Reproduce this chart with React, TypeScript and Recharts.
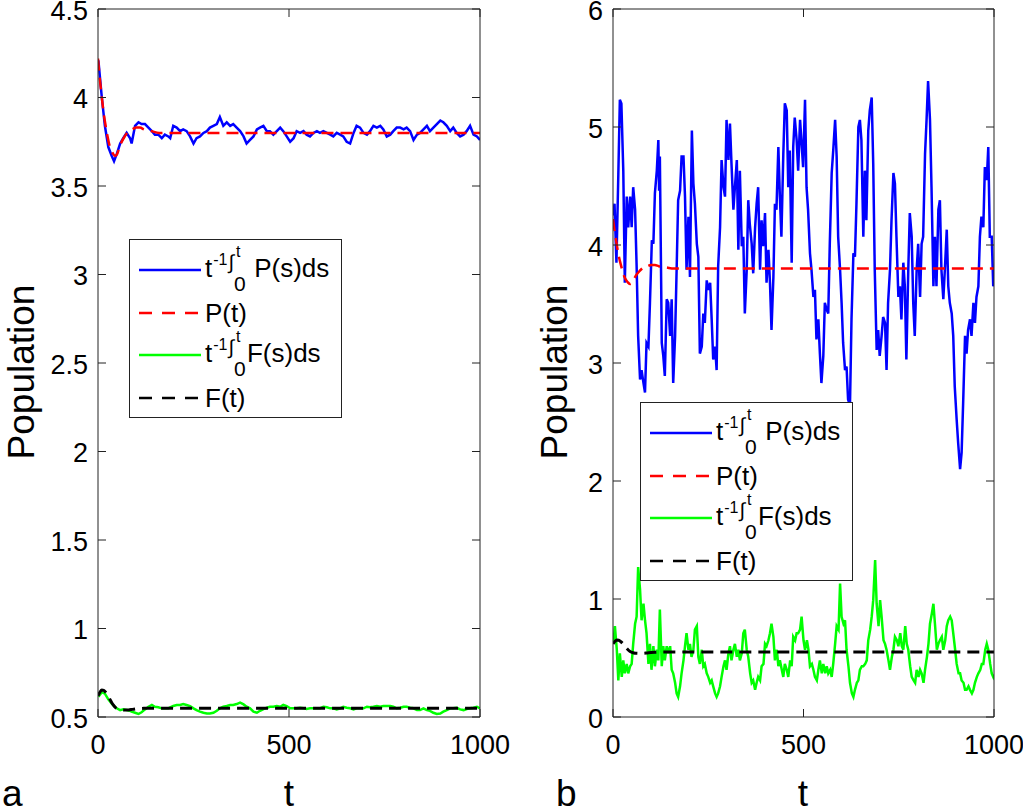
import { Legend, Line, LineChart, XAxis, YAxis } from "recharts";

const FONT = '"Liberation Sans", Arial, Helvetica, sans-serif';

// deterministic solutions P(t), F(t) (same in both panels)
const tDet = [0, 5, 10, 15, 20, 25, 30, 35, 40, 45, 50, 55, 60, 70, 80, 90, 100, 110, 120, 140, 160, 200, 300, 500, 1000];
const pDet = [4.22, 4.1, 4.0, 3.91, 3.84, 3.78, 3.73, 3.7, 3.68, 3.67, 3.68, 3.71, 3.74, 3.78, 3.81, 3.82, 3.83, 3.83, 3.82, 3.81, 3.8, 3.8, 3.8, 3.8, 3.8];
const fDet = [0.62, 0.64, 0.652, 0.65, 0.64, 0.625, 0.605, 0.585, 0.568, 0.555, 0.547, 0.542, 0.54, 0.539, 0.54, 0.543, 0.546, 0.548, 0.549, 0.55, 0.55, 0.55, 0.55, 0.55, 0.55];

// panel a: time averages
const tAvgA = [1, 10, 18, 27, 36, 42, 49, 58, 66, 75, 84, 88, 97, 106, 114, 123, 132, 141, 149, 158, 167, 175, 184, 189, 197, 206, 215, 223, 232, 241, 250, 258, 267, 276, 285, 293, 302, 311, 319, 328, 337, 346, 354, 363, 372, 381, 389, 398, 407, 416, 424, 433, 442, 450, 459, 468, 477, 485, 494, 503, 512, 520, 529, 538, 546, 555, 564, 573, 581, 590, 599, 608, 616, 625, 634, 642, 651, 660, 669, 677, 686, 695, 704, 712, 721, 730, 739, 747, 756, 765, 773, 782, 791, 800, 808, 817, 826, 835, 843, 852, 861, 869, 878, 887, 896, 904, 913, 922, 930, 939, 948, 957, 965, 974, 983, 992, 1000];
const avgPA = [4.21, 4.0, 3.84, 3.72, 3.67, 3.64, 3.68, 3.74, 3.77, 3.8, 3.77, 3.74, 3.84, 3.86, 3.85, 3.85, 3.83, 3.81, 3.79, 3.79, 3.77, 3.79, 3.78, 3.77, 3.84, 3.83, 3.81, 3.82, 3.81, 3.78, 3.74, 3.77, 3.78, 3.8, 3.81, 3.83, 3.84, 3.85, 3.89, 3.84, 3.86, 3.84, 3.85, 3.83, 3.81, 3.78, 3.74, 3.76, 3.78, 3.82, 3.83, 3.84, 3.81, 3.81, 3.79, 3.81, 3.83, 3.81, 3.78, 3.75, 3.77, 3.81, 3.8, 3.81, 3.79, 3.78, 3.8, 3.81, 3.8, 3.81, 3.8, 3.79, 3.78, 3.8, 3.79, 3.78, 3.75, 3.74, 3.8, 3.84, 3.83, 3.8, 3.79, 3.81, 3.84, 3.83, 3.84, 3.82, 3.78, 3.79, 3.81, 3.83, 3.83, 3.82, 3.83, 3.81, 3.76, 3.79, 3.8, 3.82, 3.84, 3.81, 3.83, 3.85, 3.87, 3.86, 3.84, 3.81, 3.83, 3.8, 3.78, 3.79, 3.81, 3.84, 3.79, 3.78, 3.76];
const avgFA = [0.615, 0.64, 0.632, 0.6, 0.575, 0.562, 0.549, 0.539, 0.543, 0.539, 0.535, 0.53, 0.524, 0.517, 0.527, 0.543, 0.558, 0.568, 0.558, 0.555, 0.549, 0.549, 0.549, 0.555, 0.562, 0.568, 0.568, 0.573, 0.568, 0.562, 0.549, 0.539, 0.53, 0.524, 0.52, 0.52, 0.524, 0.535, 0.549, 0.558, 0.562, 0.568, 0.568, 0.573, 0.581, 0.571, 0.558, 0.549, 0.53, 0.524, 0.535, 0.545, 0.552, 0.558, 0.558, 0.562, 0.558, 0.568, 0.562, 0.549, 0.549, 0.549, 0.552, 0.549, 0.545, 0.549, 0.549, 0.549, 0.549, 0.558, 0.555, 0.549, 0.549, 0.543, 0.549, 0.558, 0.552, 0.549, 0.543, 0.549, 0.549, 0.549, 0.558, 0.555, 0.558, 0.562, 0.558, 0.562, 0.562, 0.562, 0.558, 0.549, 0.552, 0.558, 0.558, 0.552, 0.549, 0.539, 0.539, 0.549, 0.539, 0.535, 0.524, 0.517, 0.52, 0.53, 0.539, 0.549, 0.549, 0.552, 0.543, 0.539, 0.545, 0.549, 0.552, 0.558, 0.549];

// panel b: time averages
const tAvgPB = [0, 4, 9, 14, 18, 22, 27, 31, 36, 40, 45, 49, 53, 58, 62, 66, 71, 75, 80, 84, 88, 93, 97, 102, 106, 110, 115, 119, 121, 123, 128, 132, 136, 141, 145, 150, 154, 158, 163, 167, 171, 176, 180, 185, 189, 193, 198, 202, 207, 211, 215, 220, 224, 228, 233, 237, 241, 246, 250, 255, 259, 263, 268, 272, 276, 281, 285, 290, 294, 298, 303, 307, 311, 316, 320, 325, 329, 333, 338, 342, 346, 351, 355, 359, 364, 368, 373, 377, 381, 386, 390, 394, 399, 403, 408, 412, 416, 421, 425, 429, 434, 438, 442, 447, 451, 456, 460, 464, 469, 473, 477, 482, 486, 491, 495, 499, 504, 508, 512, 517, 521, 526, 530, 534, 539, 543, 547, 552, 556, 561, 565, 569, 574, 578, 583, 587, 591, 596, 600, 604, 609, 613, 617, 622, 626, 631, 635, 639, 644, 648, 652, 657, 661, 665, 670, 674, 679, 683, 687, 692, 696, 700, 705, 709, 714, 718, 722, 727, 731, 736, 740, 744, 749, 753, 757, 762, 766, 770, 775, 779, 784, 788, 792, 797, 801, 806, 810, 814, 819, 823, 827, 832, 836, 841, 845, 849, 854, 858, 862, 867, 871, 876, 880, 884, 889, 893, 897, 902, 906, 911, 915, 919, 924, 928, 932, 937, 941, 946, 950, 954, 959, 963, 967, 972, 976, 981, 985, 989, 994, 998, 1000];
const avgPB = [4.25, 4.35, 3.85, 4.6, 5.23, 5.2, 4.63, 3.68, 4.41, 4.15, 4.41, 4.15, 4.49, 4.3, 3.82, 3.23, 2.86, 2.94, 2.83, 2.75, 3.17, 3.14, 3.51, 4.04, 4.01, 4.44, 4.63, 4.89, 4.46, 4.75, 3.17, 3.06, 2.89, 3.54, 3.51, 3.23, 3.54, 2.83, 3.23, 3.79, 4.38, 4.46, 4.75, 4.75, 4.41, 3.79, 4.24, 3.73, 4.97, 4.52, 4.35, 4.01, 3.9, 3.08, 3.14, 3.42, 3.34, 3.7, 3.62, 3.68, 3.37, 3.03, 3.14, 2.94, 3.82, 4.15, 4.72, 4.49, 4.41, 5.06, 4.72, 5.03, 4.69, 4.3, 4.49, 4.72, 3.96, 4.63, 3.99, 4.07, 3.42, 3.79, 4.38, 4.18, 4.01, 3.76, 4.15, 4.35, 4.49, 3.79, 4.21, 3.99, 4.27, 3.68, 3.96, 3.68, 3.28, 3.73, 4.35, 4.3, 4.83, 4.41, 4.07, 4.77, 5.2, 5.14, 4.49, 4.8, 3.85, 4.83, 5.08, 4.89, 4.63, 5.06, 4.86, 4.66, 5.23, 4.49, 4.3, 3.93, 3.79, 3.56, 3.62, 3.2, 3.37, 3.08, 2.83, 3.06, 3.51, 3.45, 3.42, 4.01, 4.61, 4.8, 5.06, 4.75, 4.07, 3.79, 3.51, 3.17, 2.94, 2.97, 2.69, 2.64, 3.37, 3.93, 3.9, 4.35, 5.0, 5.06, 4.89, 4.07, 4.63, 4.21, 4.97, 5.14, 5.25, 4.69, 3.79, 3.11, 3.28, 3.06, 3.23, 3.39, 3.34, 2.94, 3.51, 3.79, 4.21, 4.61, 4.52, 4.07, 3.56, 3.65, 3.37, 3.85, 3.65, 3.03, 3.79, 4.27, 4.07, 3.51, 3.23, 3.79, 4.01, 3.56, 4.01, 4.07, 4.77, 5.06, 5.39, 5.06, 4.49, 3.65, 4.07, 3.65, 4.3, 4.38, 3.79, 3.54, 3.79, 4.13, 3.65, 3.51, 3.42, 3.23, 2.8, 2.52, 2.32, 2.1, 2.24, 2.66, 3.23, 3.08, 3.28, 3.37, 3.23, 3.51, 3.34, 3.56, 3.65, 4.07, 4.24, 4.15, 4.66, 4.55, 4.83, 4.07, 4.07, 3.65, 3.7];

const tAvgFB = [1, 5, 10, 14, 18, 23, 27, 31, 36, 40, 45, 49, 53, 58, 62, 66, 71, 75, 80, 84, 88, 93, 97, 101, 106, 110, 115, 119, 123, 128, 132, 136, 141, 145, 150, 154, 158, 163, 167, 171, 176, 180, 185, 189, 193, 198, 202, 206, 211, 215, 220, 224, 228, 233, 237, 241, 246, 250, 255, 259, 263, 268, 272, 276, 281, 285, 290, 294, 298, 303, 307, 311, 316, 320, 325, 329, 333, 338, 342, 346, 351, 355, 360, 364, 368, 373, 377, 381, 386, 390, 395, 399, 403, 408, 412, 416, 421, 425, 430, 434, 438, 443, 447, 451, 456, 460, 465, 469, 473, 478, 482, 486, 491, 495, 500, 504, 509, 513, 517, 522, 526, 530, 535, 539, 543, 548, 552, 557, 561, 565, 570, 574, 578, 583, 587, 592, 596, 600, 605, 609, 613, 618, 622, 627, 631, 635, 640, 644, 648, 653, 657, 662, 666, 670, 675, 679, 683, 688, 692, 697, 701, 705, 710, 714, 718, 723, 727, 732, 736, 740, 745, 749, 754, 758, 762, 767, 771, 775, 780, 784, 789, 793, 797, 802, 806, 810, 815, 819, 824, 828, 832, 837, 841, 845, 850, 854, 858, 863, 867, 872, 876, 880, 885, 889, 893, 898, 902, 907, 911, 915, 920, 924, 928, 933, 937, 942, 946, 950, 955, 959, 964, 968, 972, 977, 981, 985, 990, 994, 998, 1000];
const avgFB = [0.62, 0.77, 0.57, 0.31, 0.54, 0.34, 0.48, 0.37, 0.45, 0.37, 0.43, 0.45, 0.62, 0.79, 0.85, 1.27, 1.08, 0.82, 0.96, 0.82, 0.71, 0.45, 0.62, 0.4, 0.6, 0.43, 0.57, 0.48, 0.91, 0.43, 0.6, 0.48, 0.6, 0.54, 0.6, 0.4, 0.37, 0.29, 0.2, 0.17, 0.26, 0.37, 0.48, 0.6, 0.71, 0.57, 0.62, 0.51, 0.57, 0.74, 0.77, 0.51, 0.45, 0.57, 0.43, 0.45, 0.37, 0.34, 0.29, 0.31, 0.26, 0.2, 0.17, 0.2, 0.26, 0.34, 0.43, 0.48, 0.4, 0.54, 0.6, 0.48, 0.57, 0.62, 0.51, 0.57, 0.48, 0.54, 0.71, 0.74, 0.57, 0.51, 0.37, 0.29, 0.31, 0.23, 0.29, 0.34, 0.31, 0.43, 0.45, 0.62, 0.6, 0.65, 0.71, 0.79, 0.68, 0.48, 0.57, 0.43, 0.48, 0.4, 0.34, 0.45, 0.4, 0.34, 0.48, 0.43, 0.68, 0.65, 0.71, 0.71, 0.74, 0.85, 0.65, 0.57, 0.65, 0.57, 0.43, 0.45, 0.4, 0.34, 0.31, 0.4, 0.48, 0.37, 0.45, 0.37, 0.43, 0.37, 0.4, 0.34, 0.45, 0.62, 0.77, 0.74, 1.13, 0.85, 0.79, 0.82, 0.57, 0.43, 0.29, 0.2, 0.17, 0.23, 0.29, 0.31, 0.4, 0.43, 0.43, 0.45, 0.48, 0.65, 0.74, 0.85, 0.99, 1.33, 0.96, 0.77, 0.99, 0.85, 0.65, 0.62, 0.57, 0.48, 0.4, 0.51, 0.57, 0.68, 0.65, 0.6, 0.71, 0.6, 0.57, 0.77, 0.62, 0.57, 0.43, 0.34, 0.31, 0.29, 0.4, 0.34, 0.4, 0.37, 0.29, 0.4, 0.51, 0.62, 0.79, 0.88, 0.96, 0.79, 0.57, 0.62, 0.65, 0.68, 0.57, 0.65, 0.77, 0.82, 0.85, 0.82, 0.71, 0.57, 0.45, 0.37, 0.37, 0.31, 0.29, 0.23, 0.23, 0.26, 0.23, 0.2, 0.23, 0.29, 0.34, 0.37, 0.4, 0.45, 0.45, 0.57, 0.62, 0.57, 0.45, 0.37, 0.34, 0.36];

const xTicks = [0, 500, 1000];
const yTicksA = [0.5, 1, 1.5, 2, 2.5, 3, 3.5, 4, 4.5];
const yTicksB = [0, 1, 2, 3, 4, 5, 6];

const toRows = (ts: number[], vs: number[]) => ts.map((t, i) => ({ t, v: vs[i] }));

const BLUE = "#0000ff";
const RED = "#ff0000";
const GREEN = "#00ff00";
const BLACK = "#000000";
const AXIS = "#222";
const TICK_FS = 27;
const TICK_LEN = 8;
const PLOT_TOP = 9;
const PLOT_BOTTOM = 717;

function IntegralLabel({ fn, space }: { fn: string; space: boolean }) {
  return (
    <span style={{ whiteSpace: "nowrap" }}>
      t
      <span style={{ fontSize: 16, position: "relative", top: -12, marginLeft: 1 }}>-1</span>
      <span style={{ fontSize: 20, position: "relative", top: -8, marginLeft: 1 }}>∫</span>
      <span style={{ display: "inline-block", position: "relative", width: 13, height: 0 }}>
        <span style={{ position: "absolute", left: 2, top: -33, fontSize: 16, lineHeight: "16px" }}>t</span>
        <span style={{ position: "absolute", left: 0, top: -4, fontSize: 21, lineHeight: "21px" }}>0</span>
      </span>
      {space ? "\u00a0" : ""}
      {fn}(s)ds
    </span>
  );
}

const legendEntries = [
  { color: BLUE, dash: undefined as string | undefined, label: <IntegralLabel fn="P" space={true} /> },
  { color: RED, dash: "13 10", label: <span>P(t)</span> },
  { color: GREEN, dash: undefined as string | undefined, label: <IntegralLabel fn="F" space={false} /> },
  { color: BLACK, dash: "13 10", label: <span>F(t)</span> },
];

function LegendBox() {
  return (
    <div
      style={{
        width: 211,
        height: 177,
        border: `1px solid ${AXIS}`,
        background: "#fff",
        fontFamily: FONT,
        fontSize: 26,
        color: "#000",
        position: "relative",
      }}
    >
      {legendEntries.map((e, i) => (
        <div key={i} style={{ position: "absolute", left: 8, top: 12 + i * 42.5, height: 36, display: "flex", alignItems: "center" }}>
          <svg width={64} height={6} style={{ display: "block" }}>
            <line x1={1} y1={3} x2={63} y2={3} stroke={e.color} strokeWidth={2.5} strokeDasharray={e.dash} />
          </svg>
          <div style={{ marginLeft: 3, lineHeight: "26px" }}>{e.label}</div>
        </div>
      ))}
    </div>
  );
}

// tick label plus inward tick marks on both opposite sides of the box
const makeXTick = () => (props: any) => {
  const { x, y, payload } = props;
  return (
    <g>
      <line x1={x} x2={x} y1={PLOT_BOTTOM} y2={PLOT_BOTTOM - TICK_LEN} stroke={AXIS} />
      <line x1={x} x2={x} y1={PLOT_TOP} y2={PLOT_TOP + TICK_LEN} stroke={AXIS} />
      <text x={x} y={y} dy="0.71em" textAnchor="middle" fontSize={TICK_FS} fontFamily={FONT} fill="#000">
        {payload.value}
      </text>
    </g>
  );
};

const makeYTick = (plotLeft: number, plotRight: number) => (props: any) => {
  const { x, y, payload } = props;
  return (
    <g>
      <line x1={plotLeft} x2={plotLeft + TICK_LEN} y1={y} y2={y} stroke={AXIS} />
      <line x1={plotRight - TICK_LEN} x2={plotRight} y1={y} y2={y} stroke={AXIS} />
      <text x={x} y={y} dy="0.39em" textAnchor="end" fontSize={TICK_FS} fontFamily={FONT} fill="#000">
        {payload.value}
      </text>
    </g>
  );
};

type PanelProps = {
  width: number;
  left: number;
  marginLeft: number;
  marginRight: number;
  yDomain: [number, number];
  yTicks: number[];
  avgP: { t: number; v: number }[];
  avgF: { t: number; v: number }[];
  legendLeft: number;
  legendTop: number;
};

function Panel(p: PanelProps) {
  const det = toRows(tDet, pDet);
  const detF = toRows(tDet, fDet);
  const plotLeft = p.marginLeft + 60;
  const plotRight = p.width - p.marginRight;
  return (
    <div style={{ position: "absolute", left: p.left, top: 0 }}>
      <LineChart width={p.width} height={812} margin={{ top: PLOT_TOP, right: p.marginRight, bottom: 55, left: p.marginLeft }}>
        <XAxis xAxisId="x" dataKey="t" type="number" domain={[0, 1000]} ticks={xTicks} allowDataOverflow
          height={40} tickLine={false} axisLine={{ stroke: AXIS }} tickSize={0} tickMargin={18} tick={makeXTick()} />
        <XAxis xAxisId="xt" dataKey="t" orientation="top" mirror type="number" domain={[0, 1000]} ticks={xTicks} allowDataOverflow
          tick={false} tickLine={false} axisLine={{ stroke: AXIS }} />
        <YAxis yAxisId="y" type="number" domain={p.yDomain} ticks={p.yTicks} allowDataOverflow width={60}
          tickLine={false} axisLine={{ stroke: AXIS }} tickSize={0} tickMargin={10} tick={makeYTick(plotLeft, plotRight)} />
        <YAxis yAxisId="yr" orientation="right" mirror type="number" domain={p.yDomain} ticks={p.yTicks} allowDataOverflow
          tick={false} tickLine={false} axisLine={{ stroke: AXIS }} />
        <Line xAxisId="x" yAxisId="y" data={p.avgP} dataKey="v" type="linear" stroke={BLUE} strokeWidth={2.5} dot={false} activeDot={false} isAnimationActive={false} />
        <Line xAxisId="xt" yAxisId="yr" data={det} dataKey="v" type="monotone" stroke={RED} strokeWidth={2.5} strokeDasharray="12 7" dot={false} activeDot={false} isAnimationActive={false} />
        <Line xAxisId="x" yAxisId="y" data={p.avgF} dataKey="v" type="linear" stroke={GREEN} strokeWidth={2.5} dot={false} activeDot={false} isAnimationActive={false} />
        <Line xAxisId="x" yAxisId="y" data={detF} dataKey="v" type="monotone" stroke={BLACK} strokeWidth={3} strokeDasharray="12 7" dot={false} activeDot={false} isAnimationActive={false} />
        <Legend layout="horizontal" verticalAlign="middle" align="center" content={() => <LegendBox />}
          wrapperStyle={{ left: p.legendLeft, top: p.legendTop, width: 213, height: 179 }} />
      </LineChart>
    </div>
  );
}

export default function App() {
  return (
    <div style={{ position: "absolute", left: 0, top: 0, width: 1023, height: 812, background: "#fff", fontFamily: FONT, overflow: "hidden" }}>
      <Panel width={530} left={0} marginLeft={38} marginRight={50} yDomain={[0.5, 4.5]} yTicks={yTicksA}
        avgP={toRows(tAvgA, avgPA)} avgF={toRows(tAvgA, avgFA)} legendLeft={129} legendTop={239} />
      <Panel width={503} left={520} marginLeft={33} marginRight={29} yDomain={[0, 6]} yTicks={yTicksB}
        avgP={toRows(tAvgPB, avgPB)} avgF={toRows(tAvgFB, avgFB)} legendLeft={120} legendTop={402} />
      <svg width={1023} height={812} style={{ position: "absolute", left: 0, top: 0, pointerEvents: "none" }}>
        <g fontFamily={FONT} fontSize={37} fill="#000">
          <text x={34} y={372} textAnchor="middle" transform="rotate(-90 34 372)">Population</text>
          <text x={567} y={372} textAnchor="middle" transform="rotate(-90 567 372)">Population</text>
          <text x={289} y={806} textAnchor="middle">t</text>
          <text x={803} y={806} textAnchor="middle">t</text>
          <text x={2} y={806}>a</text>
          <text x={556} y={806}>b</text>
        </g>
      </svg>
    </div>
  );
}
